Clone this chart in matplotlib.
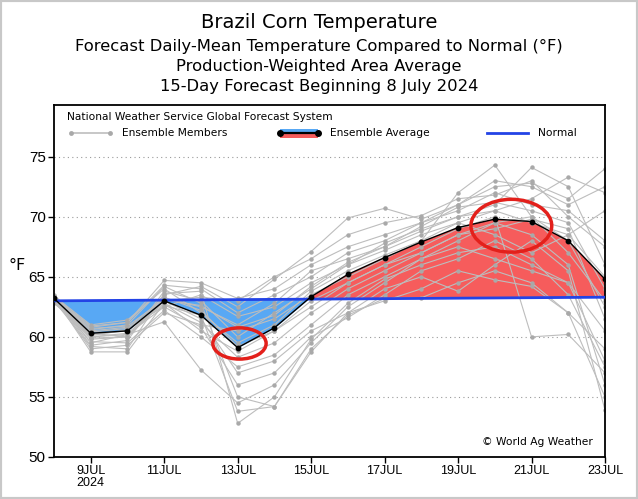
import numpy as np
import matplotlib.pyplot as plt
from matplotlib.patches import Ellipse, Rectangle

# July 2024 day of month
days = np.arange(8, 24)
tick_days = [9, 11, 13, 15, 17, 19, 21, 23]
tick_labels = ['9JUL\n2024', '11JUL', '13JUL', '15JUL', '17JUL', '19JUL', '21JUL', '23JUL']

ens_avg = [63.2, 60.3, 60.5, 63.0, 61.8, 59.1, 60.75, 63.35,
           65.2, 66.6, 67.9, 69.1, 69.8, 69.6, 68.0, 64.8]
normal = [63.0, 63.02, 63.04, 63.06, 63.08, 63.1, 63.12, 63.14,
          63.16, 63.18, 63.2, 63.22, 63.24, 63.26, 63.28, 63.3]

# GFS ensemble members
members = [
    [63.3, 60.8, 61.2, 64.7, 64.5, 63.2, 64.0, 66.0, 67.5, 68.5, 69.5, 70.5, 72.0, 71.0, 70.5, 68.0],
    [63.0, 59.8, 60.0, 63.5, 64.2, 62.5, 64.8, 67.1, 69.9, 70.7, 69.8, 71.0, 72.5, 72.8, 71.5, 74.0],
    [63.5, 60.5, 60.8, 62.5, 63.5, 61.7, 62.5, 64.5, 66.0, 67.2, 68.5, 69.5, 70.5, 71.5, 73.3, 72.0],
    [63.2, 59.0, 59.3, 62.0, 61.0, 60.5, 61.5, 63.5, 65.0, 66.5, 68.0, 72.0, 74.3, 70.0, 67.0, 63.0],
    [62.8, 60.2, 60.5, 63.2, 62.5, 61.0, 62.8, 65.5, 66.5, 67.5, 68.8, 70.0, 71.0, 74.1, 72.5, 66.0],
    [63.3, 58.75, 58.75, 62.8, 60.5, 58.8, 60.5, 63.0, 64.5, 66.0, 67.0, 68.5, 69.0, 69.8, 69.0, 61.5],
    [63.1, 60.0, 60.2, 61.25, 57.25, 54.5, 56.0, 59.5, 62.5, 64.5, 66.5, 68.0, 69.5, 68.5, 66.0, 56.0],
    [63.2, 59.3, 59.7, 63.8, 63.0, 60.0, 62.0, 64.0, 66.0, 67.8, 69.0, 70.0, 70.5, 69.5, 68.5, 65.0],
    [63.4, 61.0, 61.4, 64.0, 62.0, 59.5, 61.0, 63.8, 65.5, 66.8, 68.0, 69.5, 68.5, 67.0, 68.5, 70.5],
    [63.0, 59.6, 59.5, 62.2, 60.0, 57.5, 58.5, 61.0, 63.5, 65.0, 66.5, 67.5, 66.5, 65.5, 64.5, 58.0],
    [63.2, 60.3, 60.0, 63.0, 61.5, 57.0, 58.0, 60.5, 62.0, 63.0, 64.0, 65.5, 64.75, 64.2, 62.0, 55.0],
    [63.3, 59.5, 60.2, 62.5, 60.8, 56.0, 57.0, 60.0, 61.6, 63.5, 65.5, 66.5, 68.0, 66.5, 63.5, 57.5],
    [63.1, 60.6, 61.0, 64.2, 62.8, 55.0, 54.2, 58.75, 62.0, 64.0, 65.0, 63.8, 66.0, 68.0, 65.5, 53.9],
    [63.2, 60.1, 60.6, 62.6, 61.8, 53.8, 54.2, 59.0, 61.8, 63.2, 63.25, 64.5, 65.5, 64.5, 62.0, 59.0],
    [63.0, 59.2, 59.0, 63.6, 63.8, 52.8, 55.0, 59.8, 62.8, 64.8, 66.0, 67.0, 67.5, 66.0, 64.5, 60.5],
    [63.3, 60.9, 61.2, 64.3, 64.0, 62.0, 63.5, 65.0, 67.0, 68.0, 69.5, 71.0, 73.0, 72.5, 71.0, 72.5],
    [63.2, 60.4, 60.7, 63.3, 62.2, 59.2, 60.5, 62.5, 64.5, 66.0, 67.5, 69.0, 70.0, 60.0, 60.2, 57.0],
    [63.4, 60.0, 60.3, 62.8, 61.2, 58.3, 59.5, 62.0, 64.0, 65.5, 67.0, 68.5, 69.5, 70.0, 68.0, 62.5],
    [63.1, 59.9, 60.0, 63.0, 63.3, 63.0, 65.0, 66.5, 68.5, 69.5, 70.1, 71.5, 71.8, 73.0, 70.0, 67.5],
    [63.2, 60.7, 60.9, 63.1, 62.6, 60.8, 61.8, 64.2, 66.2, 67.5, 69.2, 70.8, 71.2, 70.5, 69.5, 64.0],
]

# red circles drawn on the chart
circle_cold = (13.05, 59.45, 1.45, 2.6)
circle_warm = (20.45, 69.25, 2.2, 4.4)

blue_fill = '#58a8f4'
red_fill = '#f65c5c'
gray_line = '#bdbdbd'
gray_dot = '#a9a9a9'
normal_col = '#2343e6'

fig = plt.figure(figsize=(6.38, 4.99), dpi=100)
ax = fig.add_axes([54/638, 42/499, 551/638, 352/499])

avg = np.array(ens_avg)
norm = np.array(normal)
ax.fill_between(days, avg, norm, where=avg <= norm, interpolate=True,
                color=blue_fill, lw=0, zorder=1)
ax.fill_between(days, avg, norm, where=avg >= norm, interpolate=True,
                color=red_fill, lw=0, zorder=1)

for m in members:
    ax.plot(days, m, color=gray_line, lw=0.8, zorder=2)
    ax.plot(days, m, 'o', color=gray_dot, ms=3.2, mec='none', zorder=2)

ax.plot(days, normal, color=normal_col, lw=2, zorder=3)
ax.plot(days, ens_avg, color='black', lw=1.0, marker='o', ms=3.2, zorder=4)

for c in (circle_cold, circle_warm):
    ax.add_patch(Ellipse((c[0], c[1]), c[2], c[3], fill=False,
                         edgecolor='#e3201b', lw=2.5, zorder=5))

ax.set_xlim(8, 23)
ax.set_ylim(50, 79.3)
ax.set_yticks([50, 55, 60, 65, 70, 75])
ax.set_xticks(tick_days)
ax.set_xticklabels(tick_labels, fontsize=9, linespacing=1.0, family='Liberation Sans')
for lab in ax.get_yticklabels():
    lab.set_family('Liberation Sans')
ax.tick_params(axis='y', labelsize=11, length=4, width=1, pad=2)
ax.tick_params(axis='x', length=4, width=1, pad=2)
for y in [50, 55, 60, 65, 70, 75]:
    ax.axhline(y, color='#999999', lw=0.8, ls=(0, (1, 3)), zorder=0)
for s in ax.spines.values():
    s.set_linewidth(1.3)

ax.text(-0.051, 0.545, '°F', transform=ax.transAxes, fontsize=11.5,
        ha='right', va='center')

# legend block, drawn by hand
lfs = 7.7
ax.text(0.024, 0.966, 'National Weather Service Global Forecast System',
        transform=ax.transAxes, fontsize=lfs, va='center')
ax.plot([0.031, 0.102], [0.920, 0.920], transform=ax.transAxes,
        color=gray_line, lw=1.2, marker='o', ms=3.5, mfc=gray_dot, mec='none', zorder=6)
ax.text(0.123, 0.920, 'Ensemble Members', transform=ax.transAxes, fontsize=lfs, va='center')
ax.add_patch(Rectangle((0.410, 0.920), 0.069, 0.013, transform=ax.transAxes,
                       color=blue_fill, lw=0, zorder=6))
ax.add_patch(Rectangle((0.410, 0.907), 0.069, 0.013, transform=ax.transAxes,
                       color=red_fill, lw=0, zorder=6))
ax.plot([0.410, 0.479], [0.920, 0.920], transform=ax.transAxes,
        color='black', lw=1.6, marker='o', ms=4, zorder=7)
ax.text(0.501, 0.920, 'Ensemble Average', transform=ax.transAxes, fontsize=lfs, va='center')
ax.plot([0.786, 0.860], [0.920, 0.920], transform=ax.transAxes, color=normal_col, lw=2)
ax.text(0.878, 0.920, 'Normal', transform=ax.transAxes, fontsize=lfs, va='center')

ax.text(0.978, 0.028, '© World Ag Weather', transform=ax.transAxes,
        fontsize=lfs, ha='right', va='bottom')

fig.text(0.5, 1 - 22/499, 'Brazil Corn Temperature', ha='center', va='center', fontsize=14)
fig.text(0.5, 1 - 46/499, 'Forecast Daily-Mean Temperature Compared to Normal (°F)',
         ha='center', va='center', fontsize=11.8)
fig.text(0.5, 1 - 66/499, 'Production-Weighted Area Average',
         ha='center', va='center', fontsize=11.8)
fig.text(0.5, 1 - 86/499, '15-Day Forecast Beginning 8 July 2024',
         ha='center', va='center', fontsize=11.8)

fig.patches.append(Rectangle((0, 0), 1, 1, transform=fig.transFigure, fill=False,
                             edgecolor='#c8c8c8', lw=3))

fig.savefig('out.png', dpi=100)
